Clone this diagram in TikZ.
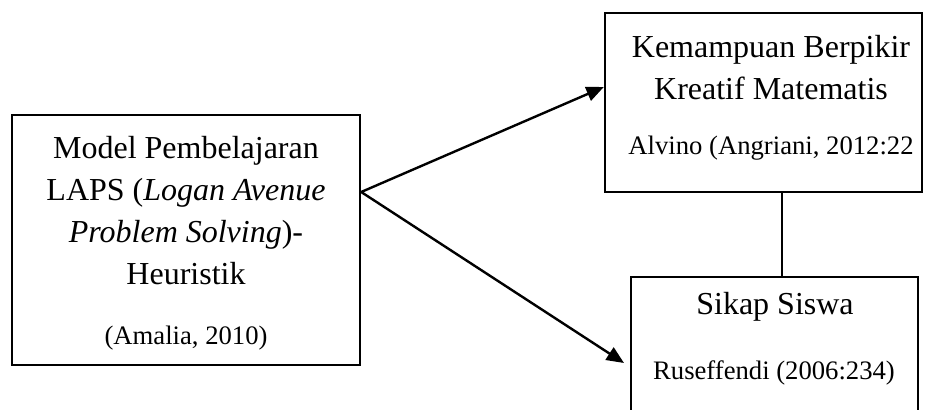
\documentclass[tikz,border=0pt]{standalone}
\usepackage{fontspec}
\setmainfont{Liberation Serif}
\usetikzlibrary{arrows.meta}
\begin{document}
\begin{tikzpicture}[x=0.75pt,y=-0.75pt,
  box/.style={draw,line width=1.8pt,inner sep=0pt},
  big/.style={font=\fontsize{24}{31.5}\selectfont,align=center,inner sep=0pt},
  small/.style={font=\fontsize{20}{24}\selectfont,inner sep=0pt},
  link/.style={line width=1.8pt},
  arr/.style={line width=1.8pt,-{Triangle[length=13pt,width=11pt]}}]
\useasboundingbox (0,0) rectangle (925,410);
\clip (0,0) rectangle (925,410);
% boxes
\node[box,minimum width=261pt,minimum height=187.5pt] (L) at (186,240) {};
\node[box,minimum width=237.75pt,minimum height=134.25pt] (T) at (763.5,102.5) {};
\node[box,minimum width=215.25pt,minimum height=122.25pt] (B) at (774.5,358.5) {};
% texts
\node[big] (Ltxt) at (186,211) {Model Pembelajaran\\LAPS (\textit{Logan Avenue}\\\textit{Problem Solving})-\\Heuristik};
\node[small] (Lref) at (186,338) {(Amalia, 2010)};
\node[big] (Ttxt) at (771,67.5) {Kemampuan Berpikir\\Kreatif Matematis};
\node[small] (Tref) at (771,148) {Alvino (Angriani, 2012:22};
\node[big] (Btxt) at (775,307) {Sikap Siswa};
\node[small] (Bref) at (774,373) {Ruseffendi (2006:234)};
% connectors
\coordinate (src) at (L.east |- 0,192);
\coordinate (tT) at (T.west |- 0,87);
\coordinate (tB) at (624,363);
\draw[arr] (src) -- (tT);
\draw[arr] (src) -- (tB);
\draw[link] (T.south -| 782,0) -- (B.north -| 782,0);
\end{tikzpicture}
\end{document}
